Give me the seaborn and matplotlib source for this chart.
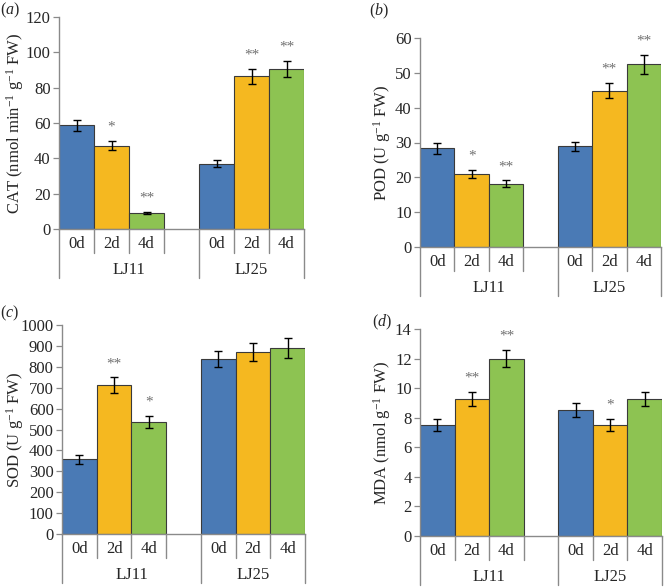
import matplotlib
matplotlib.use("Agg")
import matplotlib.pyplot as plt
import seaborn as sns
import pandas as pd

# dados
days = ["0d", "2d", "4d"]
groups = ["LJ11", "LJ25"]

cat_mean = [58.7, 47.2, 9.1, 37.0, 86.4, 90.8]
cat_err = [3.1, 2.6, 0.4, 1.9, 4.3, 4.5]
cat_sig = ["", "*", "**", "", "**", "**"]

pod_mean = [28.3, 20.9, 18.2, 28.9, 44.9, 52.5]
pod_err = [1.6, 1.1, 0.9, 1.3, 2.2, 2.7]
pod_sig = ["", "*", "**", "", "**", "**"]

sod_mean = [357, 712, 536, 837, 870, 890]
sod_err = [22, 37, 29, 40, 43, 46]
sod_sig = ["", "**", "*", "", "", ""]

mda_mean = [7.5, 9.26, 12.0, 8.52, 7.5, 9.26]
mda_err = [0.4, 0.47, 0.58, 0.45, 0.4, 0.47]
mda_sig = ["", "**", "**", "", "*", ""]

BLUE = "#4a7ab5"
ORANGE = "#f5b820"
GREEN = "#8dc352"
AXIS = "#8a8a8a"
palette = {"0d": BLUE, "2d": ORANGE, "4d": GREEN}
FS = 12

sns.set_style("white")
plt.rcParams.update({
    "font.family": ["Liberation Serif", "DejaVu Serif"],
    "mathtext.fontset": "custom",
    "mathtext.rm": "Liberation Serif",
    "mathtext.it": "Liberation Serif:italic",
    "font.size": FS,
})

W, H = 667, 587
fig = plt.figure(figsize=(W / 100, H / 100), dpi=100)

order = ["LJ11-0d", "LJ11-2d", "LJ11-4d", "gap", "LJ25-0d", "LJ25-2d", "LJ25-4d"]
xpos = [0, 1, 2, 4, 5, 6]


def painel(box, mean, err, sig, ymax, step, ylabel, letra, letra_xy, ylab_x):
    l, r, t, b = box
    ax = fig.add_axes([l / W, 1 - b / H, (r - l) / W, (b - t) / H])
    hpx = b - t
    df = pd.DataFrame({
        "cat": [f"{g}-{d}" for g in groups for d in days],
        "day": days * 2,
        "valor": mean,
    })
    sns.barplot(data=df, x="cat", y="valor", hue="day", order=order,
                hue_order=days, palette=palette, dodge=False, width=1.0,
                saturation=1, edgecolor="#3a3a3a", linewidth=0.8,
                legend=False, ax=ax)
    ax.errorbar(xpos, mean, yerr=err, fmt="none", ecolor="black",
                elinewidth=1, capsize=2.6, capthick=1)
    for x, m, e, s in zip(xpos, mean, err, sig):
        if s:
            ax.annotate(s, (x, m + e), xytext=(0, 10), textcoords="offset points",
                        ha="center", va="center", color="#707070", fontsize=11)
    ax.set_xlim(-0.5, 6.5)
    ax.set_ylim(0, ymax)
    ax.set_yticks(range(0, int(ymax) + 1, step))
    ax.set_xticks([])
    ax.set_xlabel("")
    ax.set_ylabel(ylabel, fontsize=FS, va="center")
    ax.yaxis.set_label_coords((ylab_x - l) / (r - l), 0.5)
    for s in ["top", "right"]:
        ax.spines[s].set_visible(False)
    for s in ["left", "bottom"]:
        ax.spines[s].set_color(AXIS)
        ax.spines[s].set_linewidth(1)
    ax.tick_params(axis="y", direction="out", length=4, width=0.9,
                   color=AXIS, labelsize=FS, pad=2, left=True)

    # rotulos em dois niveis abaixo do eixo
    tr = ax.get_xaxis_transform()
    for xb in [0.5, 1.5, 2.5, 4.5, 5.5]:
        ax.plot([xb, xb], [0, -24 / hpx], transform=tr, color=AXIS,
                lw=1, clip_on=False)
    for xb in [-0.5, 3.5, 6.5]:
        ax.plot([xb, xb], [0, -49 / hpx], transform=tr, color=AXIS,
                lw=1, clip_on=False)
    for x, d in zip(xpos, days * 2):
        ax.text(x, -15 / hpx, d, transform=tr, ha="center", va="center",
                fontsize=FS)
    ax.text(1.5, -41 / hpx, groups[0], transform=tr, ha="center", va="center",
            fontsize=FS)
    ax.text(5.0, -41 / hpx, groups[1], transform=tr, ha="center", va="center",
            fontsize=FS)
    fig.text(letra_xy[0] / W, 1 - letra_xy[1] / H, f"(${{\\mathit{{{letra}}}}}$)",
             ha="center", va="center", fontsize=11.5)
    return ax


painel((59, 304, 17, 229), cat_mean, cat_err, cat_sig, 120, 20,
       "CAT (nmol min$^{-1}$ g$^{-1}$ FW)", "a", (10, 10), 15)
painel((420, 661, 38, 247), pod_mean, pod_err, pod_sig, 60, 10,
       "POD (U g$^{-1}$ FW)", "b", (379, 11), 382)
painel((62, 305, 325, 534), sod_mean, sod_err, sod_sig, 1000, 100,
       "SOD (U g$^{-1}$ FW)", "c", (10, 313), 15)
painel((420, 662, 329, 536), mda_mean, mda_err, mda_sig, 14, 2,
       "MDA (nmol g$^{-1}$ FW)", "d", (382, 322), 382)

fig.savefig("out.png", dpi=100, facecolor="white")
